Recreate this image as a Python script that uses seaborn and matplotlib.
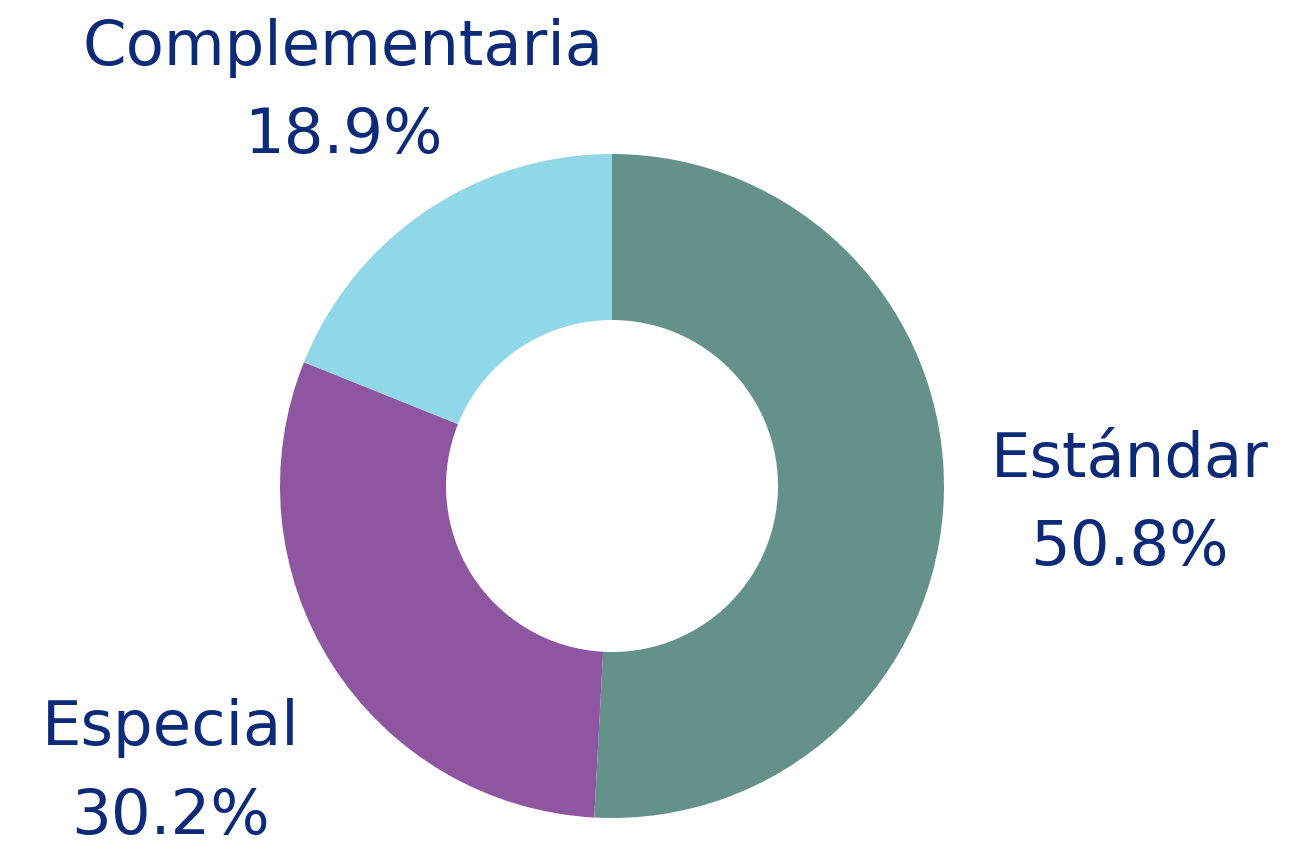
import matplotlib
matplotlib.use("Agg")
import matplotlib.pyplot as plt
import seaborn as sns

# datos del gráfico
categorias = ["Estándar", "Especial", "Complementaria"]
porcentajes = [50.8, 30.2, 18.9]
colores = ["#64918a", "#8e56a0", "#90d7e8"]

sns.set_theme(style="white")
plt.rcParams['font.family'] = ['DejaVu Sans']

fig = plt.figure(figsize=(13.03, 8.45), dpi=100)
ax = fig.add_axes([280 / 1303, 26 / 845, 664 / 1303, 664 / 845])

ax.pie(porcentajes, colors=colores, startangle=90, counterclock=False,
       radius=1, wedgeprops=dict(width=0.5, edgecolor="none"))
ax.set_xlim(-1, 1)
ax.set_ylim(-1, 1)
ax.set_aspect("equal")
ax.axis("off")

# posiciones de las etiquetas
pos_etiquetas = {"Estándar": (1.56, -0.05),
                 "Especial": (-1.33, -0.86),
                 "Complementaria": (-0.81, 1.19)}
for cat, pct in zip(categorias, porcentajes):
    x, y = pos_etiquetas[cat]
    ax.text(x, y, f"{cat}\n{pct:.1f}%", ha="center", va="center",
            fontsize=45, color="#0b2a78", linespacing=1.6, clip_on=False)

fig.savefig("out.png", dpi=100)
